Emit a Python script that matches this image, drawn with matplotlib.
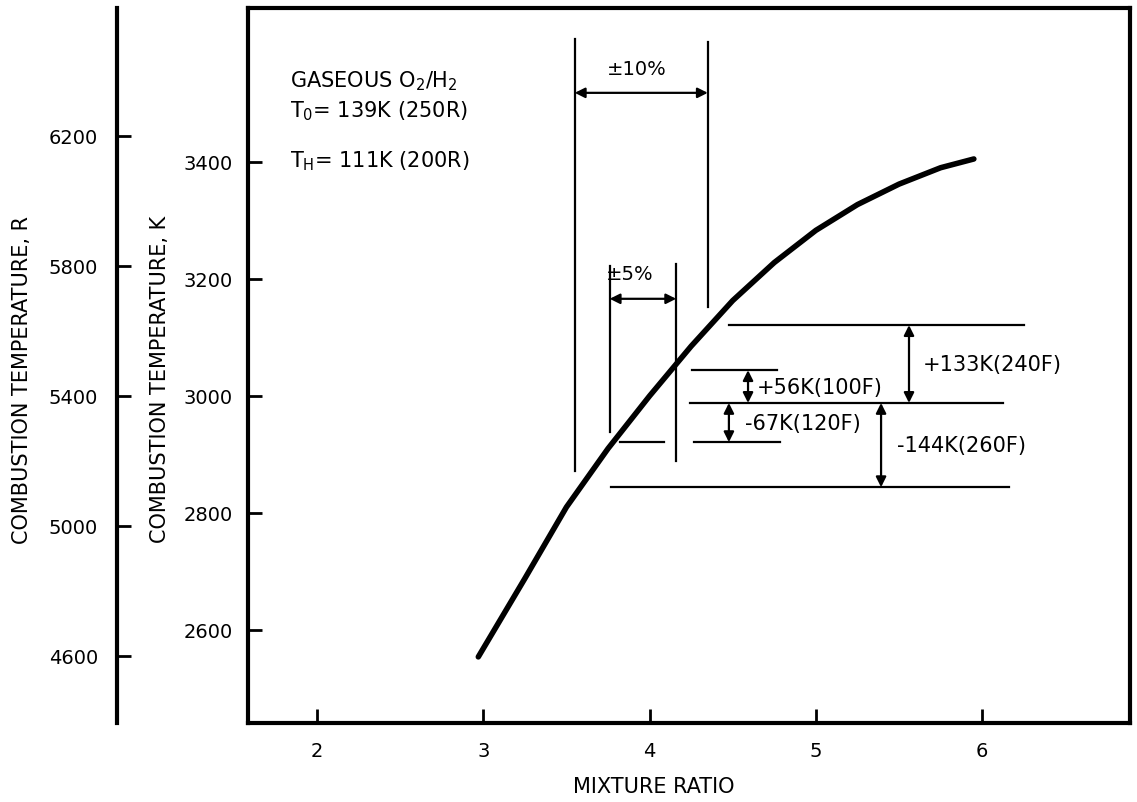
import matplotlib
matplotlib.use('Agg')
import matplotlib.pyplot as plt

# combustion temperature curve, gaseous O2/H2
mixture_ratio = [2.97, 3.25, 3.50, 3.75, 4.00, 4.25, 4.50, 4.75, 5.00, 5.25, 5.50, 5.75, 5.95]
temp_k = [2554, 2688, 2810, 2910, 3000, 3085, 3163, 3228, 3283, 3327, 3362, 3390, 3405]

# mixture ratio tolerance bands
band_10 = [3.55, 4.35]
band_5 = [3.76, 4.16]

# temperature excursions about the nominal point
base_k = 2988
delta_k = [133, 56, -67, -144]
delta_labels = ['+133K(240F)', '+56K(100F)', '-67K(120F)', '-144K(260F)']

x_ticks = [2, 3, 4, 5, 6]
k_ticks = [2600, 2800, 3000, 3200, 3400]
r_ticks = [4600, 5000, 5400, 5800, 6200]

plt.rcParams['font.family'] = ['DejaVu Sans']
plt.rcParams['mathtext.fontset'] = 'dejavusans'

W, H = 1137, 803
fig = plt.figure(figsize=(W / 100, H / 100), dpi=100)
L, R, T, B = 248, 1130, 9, 724
ax = fig.add_axes([L / W, 1 - B / H, (R - L) / W, (B - T) / H])

ax.plot(mixture_ratio, temp_k, color='black', lw=4, solid_capstyle='round',
        solid_joinstyle='round')

ax.set_xlim(1.585, 6.889)
ax.set_ylim(2441, 3663)
ax.set_xticks(x_ticks)
ax.set_yticks(k_ticks)
for s in ax.spines.values():
    s.set_linewidth(3)
ax.tick_params(direction='in', length=10, width=2, labelsize=14)
ax.tick_params(axis='y', pad=11)
ax.tick_params(axis='x', pad=13)

# axis titles placed in figure pixels
fig.text(654 / W, 1 - 787 / H, 'MIXTURE RATIO', ha='center', va='center', fontsize=15)
fig.text(160 / W, 1 - 379 / H, 'COMBUSTION TEMPERATURE, K', rotation=90,
         ha='center', va='center', fontsize=15)
fig.text(22 / W, 1 - 380 / H, 'COMBUSTION TEMPERATURE, R', rotation=90,
         ha='center', va='center', fontsize=15)

# Rankine scale on a detached spine to the left
sec = ax.secondary_yaxis(-0.148, functions=(lambda k: k * 1.8, lambda r: r / 1.8))
sec.set_yticks(r_ticks)
sec.spines['left'].set_linewidth(3)
sec.tick_params(direction='in', length=10, width=2, labelsize=14, pad=14)

# propellant conditions
ax.text(0.048, 0.89, r'GASEOUS O$_2$/H$_2$', transform=ax.transAxes, fontsize=15)
ax.text(0.048, 0.849, r'T$_0$= 139K (250R)', transform=ax.transAxes, fontsize=15)
ax.text(0.048, 0.778, r'T$_\mathrm{H}$= 111K (200R)', transform=ax.transAxes, fontsize=15)

thin = dict(color='black', lw=1.6)
arrow = dict(arrowstyle='<|-|>', color='black', lw=1.6, mutation_scale=15,
             shrinkA=0, shrinkB=0)

# +/-10% band
ax.plot([band_10[0]] * 2, [2872, 3610], **thin)
ax.plot([band_10[1]] * 2, [3152, 3605], **thin)
ax.annotate('', xy=(band_10[1], 3518), xytext=(band_10[0], 3518), arrowprops=arrow)
ax.text(3.924, 3559, '±10%', ha='center', va='center', fontsize=14)

# +/-5% band
ax.plot([band_5[0]] * 2, [2938, 3222], **thin)
ax.plot([band_5[1]] * 2, [2889, 3226], **thin)
ax.annotate('', xy=(band_5[1], 3166), xytext=(band_5[0], 3166), arrowprops=arrow)
ax.text(3.882, 3209, '±5%', ha='center', va='center', fontsize=14)

# reference lines for the temperature excursions
levels = [base_k + d for d in delta_k]
ax.plot([4.243, 6.125], [base_k] * 2, **thin)
ax.plot([4.477, 6.251], [levels[0]] * 2, **thin)
ax.plot([4.255, 4.766], [levels[1]] * 2, **thin)
ax.plot([4.267, 4.784], [levels[2]] * 2, **thin)
ax.plot([3.822, 4.087], [levels[2]] * 2, **thin)
ax.plot([3.768, 6.161], [levels[3]] * 2, **thin)

arrow_x = [5.56, 4.592, 4.477, 5.392]
label_x = [5.644, 4.646, 4.574, 5.488]
for lev, arr_x, lx, lab in zip(levels, arrow_x, label_x, delta_labels):
    ax.annotate('', xy=(arr_x, lev), xytext=(arr_x, base_k), arrowprops=arrow)
    ax.text(lx, (lev + base_k) / 2, lab, ha='left', va='center', fontsize=15)

fig.savefig('out.png', dpi=100)
